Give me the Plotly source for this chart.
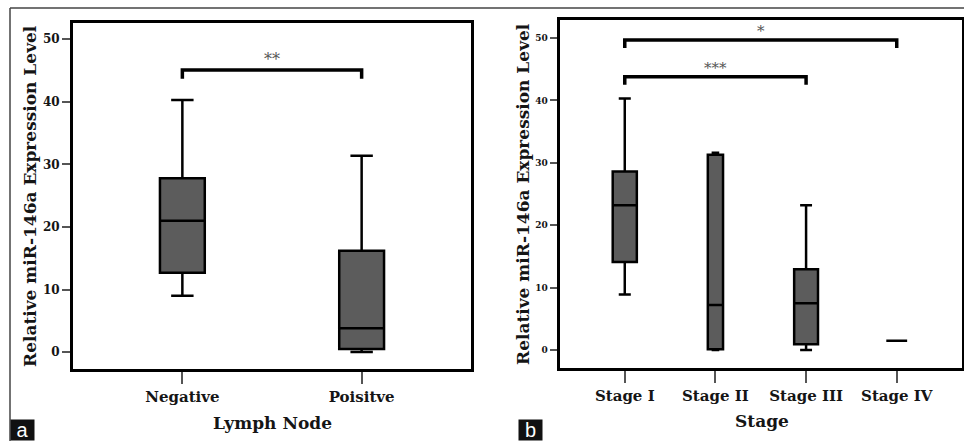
import plotly.graph_objects as go

W, H = 964, 441

# ---- Panel a data ----
a_categories = ["Negative", "Poisitve"]
a_q1 = [12.7, 0.5]
a_median = [21.0, 3.8]
a_q3 = [27.8, 16.2]
a_lower = [9.0, 0.0]
a_upper = [40.3, 31.4]
a_box_width = [0.25, 0.25]
a_brackets = [(0, 1, 45.1, "**")]
a_yticks = [0, 10, 20, 30, 40, 50]

# ---- Panel b data ----
b_categories = ["Stage I", "Stage II", "Stage III", "Stage IV"]
b_q1 = [14.1, 0.1, 0.9, 1.5]
b_median = [23.2, 7.2, 7.5, 1.5]
b_q3 = [28.6, 31.3, 12.95, 1.5]
b_lower = [8.9, 0.0, 0.0, 1.5]
b_upper = [40.3, 31.6, 23.2, 1.5]
b_box_width = [0.266, 0.168, 0.263, 0.23]
b_brackets = [(0, 3, 49.7, "*"), (0, 2, 43.8, "***")]
b_yticks = [0, 10, 20, 30, 40, 50]

SERIF = "DejaVu Serif"
FILL = "#5c5c5c"
TXT = "#151515"

fig = go.Figure()


def add_boxes(cats, q1, med, q3, lo, hi, widths, xa, ya):
    for i, c in enumerate(cats):
        fig.add_trace(go.Box(
            x=[i], q1=[q1[i]], median=[med[i]], q3=[q3[i]],
            lowerfence=[lo[i]], upperfence=[hi[i]],
            width=widths[i], whiskerwidth=0.5,
            fillcolor=FILL, line=dict(color="black", width=2.5),
            boxpoints=False, showlegend=False, hoverinfo="skip",
            xaxis=xa, yaxis=ya,
        ))


def add_brackets(brackets, drop, xa, ya, fsz, star_dy):
    for (i0, i1, yv, txt) in brackets:
        fig.add_trace(go.Scatter(
            x=[i0, i0, i1, i1], y=[yv - drop, yv, yv, yv - drop],
            mode="lines", line=dict(color="black", width=3.5),
            showlegend=False, hoverinfo="skip", xaxis=xa, yaxis=ya,
        ))
        fig.add_annotation(
            x=(i0 + i1) / 2, y=yv + star_dy, xref=xa, yref=ya, text=txt,
            xanchor="center", yanchor="middle",
            showarrow=False, font=dict(family=SERIF, size=fsz, color="#555555"),
        )


add_boxes(a_categories, a_q1, a_median, a_q3, a_lower, a_upper, a_box_width, "x", "y")
add_boxes(b_categories, b_q1, b_median, b_q3, b_lower, b_upper, b_box_width, "x2", "y2")
add_brackets(a_brackets, 1.4, "x", "y", 16, 1.6)
add_brackets(b_brackets, 1.3, "x2", "y2", 15, 1.4)

axis_common = dict(showline=True, linecolor="black", linewidth=3, mirror=True,
                   showgrid=False, zeroline=False, ticks="outside",
                   tickcolor="#555555", tickwidth=1.5)

fig.update_layout(
    width=W, height=H, margin=dict(l=0, r=0, t=0, b=0),
    paper_bgcolor="white", plot_bgcolor="white",
    xaxis=dict(domain=[73 / W, 471 / W], range=[-0.61, 1.61],
               tickvals=list(range(len(a_categories))), ticktext=a_categories,
               ticklen=12, tickfont=dict(family=SERIF, size=15, weight="bold", color=TXT),
               **axis_common),
    yaxis=dict(domain=[1 - 369 / H, 1 - 23 / H], range=[-2.7, 52.6],
               tickvals=a_yticks, ticklen=8,
               tickfont=dict(family=SERIF, size=12, weight="bold", color=TXT),
               **axis_common),
    xaxis2=dict(domain=[559.5 / W, 962 / W], range=[-0.72, 3.72], anchor="y2",
                tickvals=list(range(len(b_categories))), ticktext=b_categories,
                ticklen=12, tickfont=dict(family=SERIF, size=15, weight="bold", color=TXT),
                **axis_common),
    yaxis2=dict(domain=[1 - 367.7 / H, 1 - 20 / H], range=[-2.84, 52.9], anchor="x2",
                tickvals=b_yticks, ticklen=7,
                tickfont=dict(family=SERIF, size=9, weight="bold", color=TXT),
                **axis_common),
)

title_font = dict(family=SERIF, size=17, weight="bold", color=TXT)
# axis titles
fig.add_annotation(x=30 / W, y=1 - 196 / H, xref="paper", yref="paper",
                   xanchor="center", yanchor="middle",
                   text="Relative miR-146a Expression Level", textangle=-90,
                   showarrow=False, font=title_font)
fig.add_annotation(x=272 / W, y=1 - 423 / H, xref="paper", yref="paper",
                   xanchor="center", yanchor="middle",
                   text="Lymph Node", showarrow=False,
                   font=dict(family=SERIF, size=17, weight="bold", color=TXT))
fig.add_annotation(x=523 / W, y=1 - 194 / H, xref="paper", yref="paper",
                   xanchor="center", yanchor="middle",
                   text="Relative miR-146a Expression Level", textangle=-90,
                   showarrow=False, font=title_font)
fig.add_annotation(x=762 / W, y=1 - 421 / H, xref="paper", yref="paper",
                   xanchor="center", yanchor="middle",
                   text="Stage", showarrow=False,
                   font=dict(family=SERIF, size=17, weight="bold", color=TXT))

# panel letters
for letter, x0 in [("a", 10), ("b", 518)]:
    fig.add_annotation(x=x0 / W, y=0, xref="paper", yref="paper", xanchor="left",
                       yanchor="bottom", text=letter, showarrow=False,
                       width=23, height=20, bgcolor="#111", borderpad=0,
                       font=dict(family="Liberation Sans", size=20, color="white"))

# outer frame lines
fig.add_shape(type="line", xref="paper", yref="paper", x0=10 / W, x1=1, y0=1 - 8 / H,
              y1=1 - 8 / H, line=dict(color="#444", width=1.5))
fig.add_shape(type="line", xref="paper", yref="paper", x0=10 / W, x1=10 / W, y0=0,
              y1=1 - 8 / H, line=dict(color="#444", width=1.5))

fig.write_html("out.html")
